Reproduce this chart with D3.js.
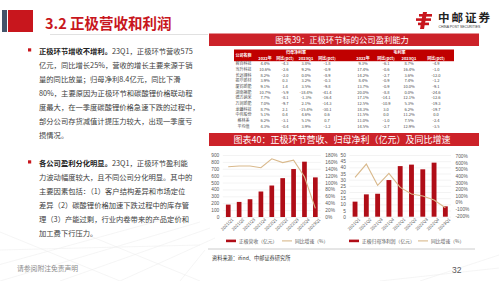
<!DOCTYPE html>
<html lang="zh">
<head>
<meta charset="utf-8">
<title>正极营收和利润</title>
<script src="https://d3js.org/d3.v7.min.js"></script>
<style>
  body { margin: 0; background: #fff; }
  svg { display: block; font-family: "Noto Sans CJK SC", "Noto Sans", sans-serif; }
</style>
</head>
<body>
<svg id="slide" width="499" height="281"></svg>
<script>
// ---- data ----
const quarters = ["2021Q1","2021Q2","2021Q3","2021Q4","2022Q1","2022Q2","2022Q3","2022Q4","2023Q1"];
const revenue = [180, 219, 258, 370, 457, 564, 696, 803, 575];        // 亿元
const revenueYoY = [146, 148, 148, 143, 169, 158, 165, 117, 25];       // %
const netProfit = [12.2, 18.1, 18.6, 29.7, 41.0, 42.2, 38.4, 43.8, 8.4]; // 亿元
const netProfitYoY = [378, 579, 258, 439, 227, 127, 97, 37, -80];      // %

const companies = ["容百科技","当升科技","长远锂科","振华新材","厦钨新能","湖南裕能","德方纳米","万润新能","龙蟠科技","中伟股份","格林美","平均值"];
const netMargin22 = ["4.4%","10.6%","8.2%","3.9%","9.1%","10.7%","7.7%","7.0%","8.7%","5.1%","6.2%","4.3%"];
const netMargin22Chg = ["-4.3","-2.6","-2.0","0.3","1.4","-5.9","-8.1","-9.7","2.1","0.4","-3.1","-0.4"];
const netMarginQ1 = ["3.8%","9.2%","0.0%","3.2%","3.5%","-18.4%","-1.3%","2.1%","-15.4%","4.6%","5.1%","3.9%"];
const netMarginQ1Chg = ["-1.8","-0.9","-8.9","-0.3","-9.8","-41.4","-16.4","-14.3","-30.1","0.6","0.7","-1.2"];
const grossMargin22 = ["9.3%","17.4%","14.2%","8.4%","13.7%","20.0%","17.1%","12.5%","18.3%","11.5%","11.0%","14.5%"];
const grossMargin22Chg = ["-6.1","-0.6","-2.7","-0.9","-0.9","-8.8","-14.1","-10.9","3.0","0.0","-1.0","-2.7"];
const grossMarginQ1 = ["8.7%","16.4%","3.6%","7.4%","10.0%","0.0%","12.1%","5.3%","6.2%","11.2%","7.5%","12.9%"];
const grossMarginQ1Chg = ["-4.9","-1.0","-12.0","-1.2","-9.1","-24.6","-12.6","-19.3","-19.7","0.0","-2.4","-3.5"];
const subHeaders = ["2022年","同比(pct)","2023Q1","同比(pct)","2022年","同比(pct)","2023Q1","同比(pct)"];
const groupHeaders = ["归母净利率","毛利率"];

const para1 = [
  [["正极环节增收不增利。", true], ["23Q1，正极环节营收575", false]],
  [["亿元，同比增长25%，营收的增长主要来源于销", false]],
  [["量的同比放量；归母净利8.4亿元，同比下滑", false]],
  [["80%，主要原因为正极环节和碳酸锂价格联动程", false]],
  [["度最大，在一季度碳酸锂价格急速下跌的过程中，", false]],
  [["部分公司存货减值计提压力较大，出现一季度亏", false]],
  [["损情况。", false]]
];
const para2 = [
  [["各公司盈利分化明显。", true], ["23Q1，正极环节盈利能", false]],
  [["力波动幅度较大，且不同公司分化明显。其中的", false]],
  [["主要因素包括：（1）客户结构差异和市场定位", false]],
  [["差异（2）碳酸锂价格加速下跌过程中的库存管", false]],
  [["理（3）产能过剩，行业内卷带来的产品定价和", false]],
  [["加工费下行压力。", false]]
];

const RED = "#c8161d";
const BAR = "#b00d17";
const LINE = "#d9b98c";
const TXT = "#595959";

const svg = d3.select("#slide");

// faint perspective background lines
const bg = svg.append("g").attr("stroke", "#eeeeee").attr("stroke-width", 0.6);
[[-60, 281, 180, 215], [0, 281, 200, 222], [60, 281, 210, 228], [120, 281, 215, 238], [180, 281, 205, 250],
 [0, 250, 200, 245], [0, 232, 120, 281], [90, 236, 200, 281], [420, 281, 499, 255], [380, 281, 499, 268]]
  .forEach(l => bg.append("line").attr("x1", l[0]).attr("y1", l[1]).attr("x2", l[2]).attr("y2", l[3]));

// ---- header ----
svg.append("rect").attr("x", 2).attr("y", 10).attr("width", 5).attr("height", 22).attr("fill", "#44546a");
svg.append("rect").attr("x", 8).attr("y", 10).attr("width", 25).attr("height", 22).attr("fill", RED);
svg.append("text").attr("x", 45).attr("y", 28.5).attr("font-size", 14.5).attr("font-weight", "bold")
  .attr("fill", RED).text("3.2 正极营收和利润");
svg.append("line").attr("x1", 50).attr("x2", 208).attr("y1", 34.5).attr("y2", 34.5)
  .attr("stroke", "#d9d9d9").attr("stroke-width", 0.8);

// logo
const logo = svg.append("g").attr("fill", RED);
logo.append("rect").attr("x", 419).attr("y", 14).attr("width", 13).attr("height", 2.6);
logo.append("rect").attr("x", 416).attr("y", 18.3).attr("width", 15).attr("height", 2.6);
logo.append("rect").attr("x", 418).attr("y", 22.6).attr("width", 11).attr("height", 2.6);
logo.append("path").attr("d", "M423,12 L427,12 L424,29 L420,29 Z");
svg.append("text").attr("x", 438).attr("y", 22).attr("font-size", 11.5).attr("font-weight", "bold")
  .attr("letter-spacing", 2).attr("fill", "#222").text("中邮证券");
svg.append("text").attr("x", 438.5).attr("y", 27.5).attr("font-size", 3.4).attr("fill", "#333")
  .attr("font-family", "Liberation Sans").text("CHINA POST SECURITIES");

// ---- left text ----
function paragraph(lines, x, y0, step) {
  svg.append("rect").attr("x", x - 11).attr("y", y0 - 5.2).attr("width", 3.2).attr("height", 3.2).attr("fill", RED);
  lines.forEach((parts, i) => {
    const t = svg.append("text").attr("x", x).attr("y", y0 + i * step).attr("font-size", 7.3).attr("fill", "#404040");
    parts.forEach(p => t.append("tspan").attr("font-weight", p[1] ? "bold" : "normal")
      .attr("fill", p[1] ? "#222" : "#404040").text(p[0]));
  });
}
paragraph(para1, 39, 53.5, 14);
paragraph(para2, 39, 165.5, 14);

svg.append("text").attr("x", 17).attr("y", 271).attr("font-size", 6.8).attr("fill", "#8c8c8c").text("请参阅附注免责声明");
svg.append("text").attr("x", 452).attr("y", 273).attr("font-size", 8.5).attr("fill", TXT)
  .attr("font-family", "Liberation Sans").text("32");

// ---- section titles ----
function banner(y, h, label, fs) {
  svg.append("rect").attr("x", 209).attr("y", y).attr("width", 270).attr("height", h).attr("fill", "#cc2229");
  svg.append("text").attr("x", 342).attr("y", y + h / 2 + fs * 0.36).attr("text-anchor", "middle")
    .attr("font-size", fs).attr("fill", "#fff").text(label);
}
banner(33.5, 12.5, "图表39：正极环节标的公司盈利能力", 8.3);
banner(133, 13, "图表40：正极环节营收、归母净利（亿元）及同比增速", 9);

// ---- table ----
const colX = [243.5, 265, 285, 306, 327, 363, 386, 409, 436];
const columns = [companies, netMargin22, netMargin22Chg, netMarginQ1, netMarginQ1Chg,
                 grossMargin22, grossMargin22Chg, grossMarginQ1, grossMarginQ1Chg];
const rowY = d3.scaleBand().domain(d3.range(companies.length)).range([61.2, 129]);
const tbl = svg.append("g").attr("font-size", 4);
tbl.append("rect").attr("x", 234).attr("y", 49.5).attr("width", 220).attr("height", 11.7).attr("fill", "#c00000");
tbl.append("text").attr("x", colX[0]).attr("y", 56.8).attr("text-anchor", "middle").attr("fill", "#fff")
  .attr("font-weight", "bold").text("公司名称");
groupHeaders.forEach((g, i) => {
  const cx = (colX[1 + i * 4] + colX[4 + i * 4]) / 2;
  tbl.append("text").attr("x", cx).attr("y", 54).attr("text-anchor", "middle").attr("fill", "#fff")
    .attr("font-weight", "bold").text(g);
});
subHeaders.forEach((s, i) => tbl.append("text").attr("x", colX[i + 1]).attr("y", 59.6)
  .attr("text-anchor", "middle").attr("fill", "#fff").attr("font-weight", "bold").text(s));
columns.forEach((col, c) => {
  tbl.append("g").selectAll("text").data(col).join("text")
    .attr("x", colX[c]).attr("y", (d, i) => rowY(i) + rowY.bandwidth() / 2 + 1.4)
    .attr("text-anchor", "middle").attr("fill", "#4d4d4d").text(d => d);
});

// ---- combo charts ----
function comboChart(o) {
  const g = svg.append("g");
  const x = d3.scaleBand().domain(quarters).range(o.xr).paddingInner(0.57).paddingOuter(0.285);
  const yL = d3.scaleLinear().domain(o.ld).range(o.lr);
  const yR = d3.scaleLinear().domain(o.rd).range(o.rr);

  // gridlines
  g.append("g").selectAll("line").data(yL.ticks(o.lt)).join("line")
    .attr("x1", o.xr[0]).attr("x2", o.xr[1]).attr("y1", d => yL(d) + 0.5).attr("y2", d => yL(d) + 0.5)
    .attr("stroke", "#e6e6e6").attr("stroke-width", 0.5);

  const axL = g.append("g").attr("transform", `translate(${o.xr[0] - 2},0)`)
    .call(d3.axisLeft(yL).ticks(o.lt).tickSize(0).tickPadding(1.5));
  const axR = g.append("g").attr("transform", `translate(${o.xr[1] + 3},0)`)
    .call(d3.axisRight(yR).ticks(o.rt).tickSize(0).tickPadding(1.5).tickFormat(d => d + "%"));
  [axL, axR].forEach(a => {
    a.select(".domain").remove();
    a.selectAll("text").attr("font-size", 4.8).attr("fill", TXT).attr("font-family", "Liberation Sans");
  });

  g.append("g").selectAll("rect").data(o.bars).join("rect")
    .attr("x", (d, i) => x(quarters[i])).attr("width", x.bandwidth())
    .attr("y", d => yL(d)).attr("height", d => yL(o.ld[0]) - yL(d)).attr("fill", BAR);

  g.append("path").datum(o.line)
    .attr("d", d3.line().x((d, i) => x(quarters[i]) + x.bandwidth() / 2).y(d => yR(d)))
    .attr("fill", "none").attr("stroke", LINE).attr("stroke-width", 1.1);

  const ax = g.append("g").attr("transform", `translate(0,${o.lr[0]})`)
    .call(d3.axisBottom(x).tickSize(0).tickPadding(2));
  ax.select(".domain").remove();
  ax.selectAll("text").attr("font-size", 4.4).attr("fill", TXT).attr("font-family", "Liberation Sans")
    .attr("text-anchor", "end").attr("transform", "translate(2.5,0) rotate(-45)").attr("dy", "0.5em");

  // legend
  const lg = g.append("g").attr("font-size", 4.8).attr("fill", TXT);
  lg.append("rect").attr("x", o.leg[0]).attr("y", 239.6).attr("width", 10).attr("height", 2.6).attr("fill", BAR);
  lg.append("text").attr("x", o.leg[0] + 13).attr("y", 242.6).text(o.names[0]);
  lg.append("line").attr("x1", o.leg[1]).attr("x2", o.leg[1] + 10).attr("y1", 240.9).attr("y2", 240.9)
    .attr("stroke", LINE).attr("stroke-width", 1.1);
  lg.append("text").attr("x", o.leg[1] + 13).attr("y", 242.6).text(o.names[1]);
}

comboChart({
  xr: [222.8, 320.8], ld: [0, 900], lr: [217, 155], lt: 9, rd: [0, 180], rr: [217, 155], rt: 9,
  bars: revenue, line: revenueYoY, leg: [226, 282], names: ["正极营收（亿元）", "同比增速（%）"]
});
comboChart({
  xr: [349.4, 451], ld: [0, 50], lr: [216.7, 155], lt: 10, rd: [-200, 700], rr: [215.7, 156], rt: 9,
  bars: netProfit, line: netProfitYoY, leg: [349, 418], names: ["正极归母净利润（亿元）", "同比增速（%）"]
});

// source
svg.append("line").attr("x1", 208).attr("x2", 475).attr("y1", 249).attr("y2", 249)
  .attr("stroke", "#bfbfbf").attr("stroke-width", 0.8);
svg.append("text").attr("x", 212).attr("y", 260).attr("font-size", 5.2).attr("fill", "#333")
  .text("资料来源：ifind、中邮证券研究所");
</script>
</body>
</html>
